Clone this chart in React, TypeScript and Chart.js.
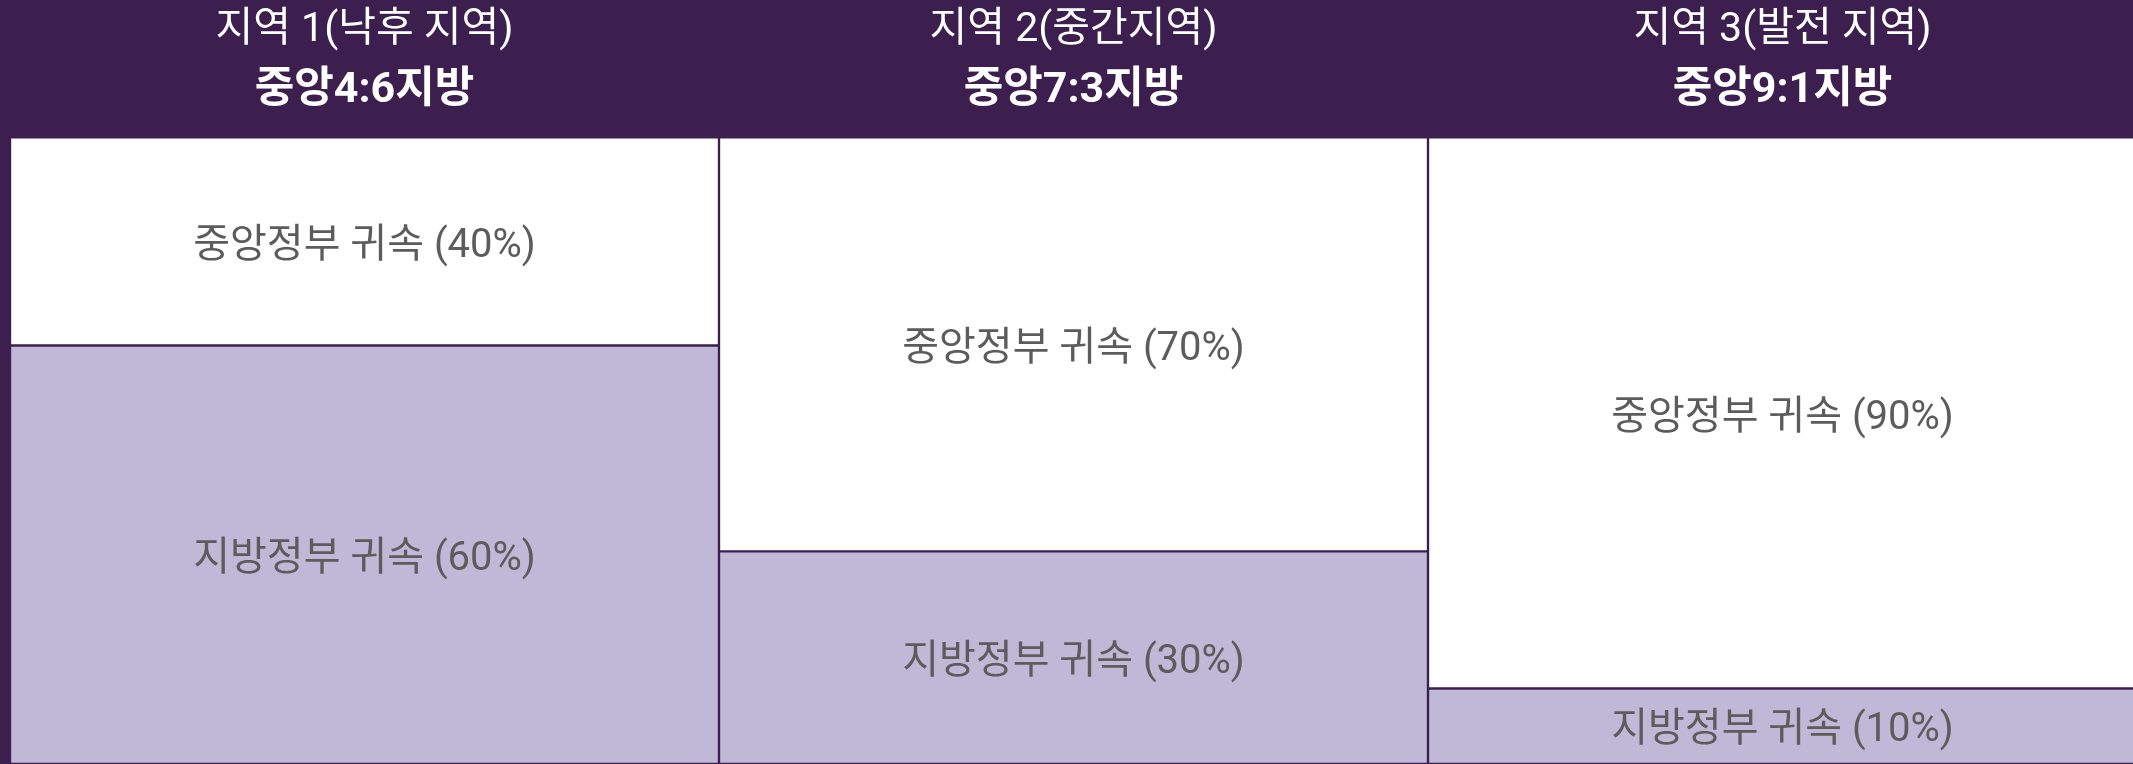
import React, { useEffect, useRef } from 'react';
import { Chart, registerables } from 'chart.js';

Chart.register(...registerables);

// ---- data ----
const regions = ['지역 1(낙후 지역)', '지역 2(중간지역)', '지역 3(발전 지역)'];
const ratioLabels = ['중앙4:6지방', '중앙7:3지방', '중앙9:1지방'];
const seriesNames = ['중앙정부 귀속', '지방정부 귀속'];
const centralShare = [40, 70, 90];
const localShare = [60, 30, 10];

// ---- styles ----
const DARK = '#3c1e4f';
const LIGHT = '#c0b8d7';
const LABEL_COLOR = '#5c5c5c';
const HEADER_H = 138.5;
const HEADER_FONT = "Roboto, 'Noto Sans CJK KR', sans-serif";
const LABEL_FONT = "Roboto, 'Noto Sans CJK KR', sans-serif";

export default function App() {
  const ref = useRef<HTMLCanvasElement>(null);

  useEffect(() => {
    document.body.style.margin = '0';
    document.body.style.overflow = 'hidden';
    const canvas = ref.current!;

    const overlay = {
      id: 'overlay',
      beforeDraw(chart: any) {
        const ctx = chart.ctx;
        ctx.save();
        ctx.fillStyle = DARK;
        ctx.fillRect(0, 0, chart.width, chart.height);
        ctx.restore();
      },
      afterDatasetsDraw(chart: any) {
        const ctx = chart.ctx;
        ctx.save();
        // segment labels
        ctx.textAlign = 'center';
        ctx.textBaseline = 'middle';
        ctx.fillStyle = LABEL_COLOR;
        ctx.font = `400 40px ${LABEL_FONT}`;
        chart.data.datasets.forEach((ds: any, di: number) => {
          const meta = chart.getDatasetMeta(di);
          meta.data.forEach((el: any, i: number) => {
            const { x, y, base } = el.getProps(['x', 'y', 'base'], true);
            const top = Math.max(Math.min(y, base), HEADER_H);
            const bottom = Math.min(Math.max(y, base), chart.height);
            const v = ds.data[i];
            ctx.fillText(`${ds.label} (${v}%)`, x, (top + bottom) / 2 + 5);
          });
        });
        // header band
        ctx.fillStyle = DARK;
        ctx.fillRect(0, 0, chart.width, HEADER_H);
        const xs = chart.scales.x;
        ctx.fillStyle = '#ffffff';
        regions.forEach((r, i) => {
          const cx = xs.getPixelForValue(i);
          ctx.font = `400 41px ${HEADER_FONT}`;
          ctx.fillText(r, cx, 31);
          ctx.font = `700 43px ${HEADER_FONT}`;
          ctx.fillText(ratioLabels[i], cx, 91);
        });
        ctx.restore();
      },
    };

    const chart = new Chart(canvas, {
      type: 'bar',
      data: {
        labels: regions,
        datasets: [
          {
            label: seriesNames[1],
            data: localShare,
            backgroundColor: LIGHT,
            borderColor: DARK,
            borderWidth: 1.5,
            borderSkipped: false,
            base: -1,
          } as any,
          {
            label: seriesNames[0],
            data: centralShare,
            backgroundColor: '#ffffff',
            borderColor: DARK,
            borderWidth: 1.5,
            borderSkipped: false,
          },
        ],
      },
      options: {
        responsive: false,
        animation: false,
        events: [],
        layout: { padding: { left: 10, top: 71, right: 0, bottom: 0 } },
        plugins: {
          legend: { display: false },
          tooltip: { enabled: false },
          title: { display: false },
        },
        datasets: { bar: { barPercentage: 1, categoryPercentage: 1 } },
        scales: {
          x: { stacked: true, display: false, grid: { display: false } },
          y: { stacked: true, display: false, min: -1, max: 100 },
        },
      },
      plugins: [overlay],
    });

    return () => chart.destroy();
  }, []);

  return (
    <div style={{ width: 2133, height: 764, overflow: 'hidden' }}>
      <canvas ref={ref} width={2137} height={764} style={{ display: 'block' }} />
    </div>
  );
}
